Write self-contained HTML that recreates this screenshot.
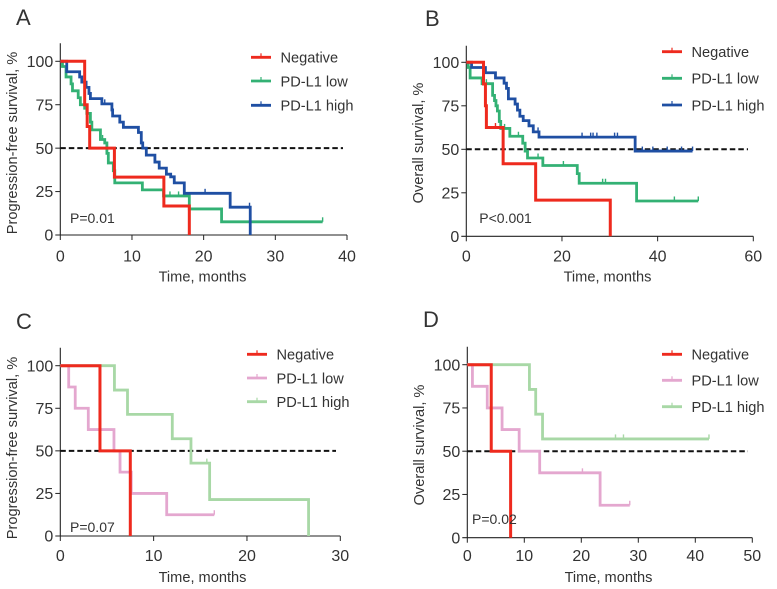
<!DOCTYPE html>
<html>
<head>
<meta charset="utf-8">
<style>
html,body{margin:0;padding:0;background:#fff;width:777px;height:589px;overflow:hidden}
svg{display:block}
text{font-family:"Liberation Sans",sans-serif;fill:#333}
</style>
</head>
<body>
<svg id="figure" width="777" height="589" viewBox="0 0 777 589" xmlns="http://www.w3.org/2000/svg"></svg>
<script>
// Panel A
const aXTicks = [0, 10, 20, 30, 40];
const aNegTimes = [0, 3.4, 3.75, 4.1, 7.55, 14.45, 18.0];
const aNegSurv = [100, 75, 62.5, 50, 33.3, 16.7, 0];
const aNegCensor = [];
const aLowTimes = [0, 0.3, 0.8, 1.5, 1.7, 2.5, 2.8, 3.4, 3.7, 4.2, 4.4, 5.6, 6.2, 6.5, 6.7, 7.4, 7.6, 11.45, 14.4, 18.0, 22.5, 36.6];
const aLowSurv = [100, 97, 91, 87, 83, 79, 75, 73, 70, 65, 60.5, 55, 53, 47, 41.5, 37, 30, 26, 22.5, 15, 7.6, 7.6];
const aLowCensor = [5.9, 15.3, 16.5, 36.6];
const aHighTimes = [0, 0.9, 2.7, 3.0, 3.6, 4.0, 4.2, 5.8, 7.2, 7.3, 8.3, 8.8, 10.9, 11.3, 11.5, 12.0, 13.2, 13.8, 14.8, 15.4, 15.9, 17.3, 23.7, 26.5];
const aHighSurv = [100, 94, 91, 88, 85, 81.5, 78.5, 75.5, 72, 68.5, 65, 62, 59, 53, 50, 46, 42, 38.5, 35, 33.5, 30, 24, 16, 0];
const aHighCensor = [6.2, 20.2, 26.4];

// Panel B
const bXTicks = [0, 20, 40, 60];
const bNegTimes = [0, 3.6, 4.0, 4.2, 7.7, 14.5, 30.1];
const bNegSurv = [100, 87.5, 75, 62.5, 41.7, 20.8, 0];
const bNegCensor = [6.1];
const bLowTimes = [0, 0.4, 0.8, 3.3, 5.5, 5.9, 6.2, 6.5, 6.9, 7.2, 9.1, 11.8, 12.3, 12.8, 16.0, 23.2, 23.6, 35.6, 48.5];
const bLowSurv = [100, 97, 91, 87.7, 81, 78, 75, 72, 66, 62, 57.5, 53.5, 49, 45, 40.7, 36, 30.5, 20.3, 20.3];
const bLowCensor = [4.2, 8.0, 10.9, 15.0, 20.3, 28.5, 29.1, 43.5, 48.5];
const bHighTimes = [0, 1.1, 4.0, 6.1, 7.9, 8.4, 8.8, 10.2, 10.7, 11.2, 11.9, 13.1, 14.0, 15.2, 35.3, 47.3];
const bHighSurv = [100, 97, 94, 91, 88, 85, 79, 76, 72.5, 69, 66.5, 63.5, 60, 57, 49, 49];
const bHighCensor = [15.0, 24.2, 26.0, 26.5, 27.3, 31.0, 31.6, 36.8, 39.0, 42.0, 45.0, 47.3];

// Panel C
const cXTicks = [0, 10, 20, 30];
const cNegTimes = [0, 4.25, 7.5];
const cNegSurv = [100, 50, 0];
const cNegCensor = [];
const cLowTimes = [0, 0.9, 1.6, 3.0, 5.75, 6.4, 7.6, 11.4, 16.5];
const cLowSurv = [100, 87.5, 75, 62.5, 50, 37.5, 25, 12.5, 12.5];
const cLowCensor = [16.5];
const cHighTimes = [0, 5.8, 7.2, 12.0, 14.0, 16.0, 26.6];
const cHighSurv = [100, 85.7, 71.4, 57.1, 42.8, 21.4, 0];
const cHighCensor = [15.7];

// Panel D
const dXTicks = [0, 10, 20, 30, 40, 50];
const dNegTimes = [0, 4.2, 7.6];
const dNegSurv = [100, 50, 0];
const dNegCensor = [];
const dLowTimes = [0, 0.9, 3.5, 6.1, 9.1, 12.7, 23.3, 28.5];
const dLowSurv = [100, 87.5, 75, 62.5, 50, 37.5, 18.75, 18.75];
const dLowCensor = [20.2, 28.5];
const dHighTimes = [0, 10.9, 12.0, 13.2, 42.4];
const dHighSurv = [100, 85.7, 71.4, 57.1, 57.1];
const dHighCensor = [26.0, 27.4, 42.4];

// Shared
const yTicks = [0, 25, 50, 75, 100];
const seriesLabels = ['Negative', 'PD-L1 low', 'PD-L1 high'];

const NS = 'http://www.w3.org/2000/svg';
const root = document.getElementById('figure');

function add(parent, tag, attrs, name) {
  const el = document.createElementNS(NS, tag);
  for (const k in attrs) el.setAttribute(k, attrs[k]);
  
  
  parent.appendChild(el);
  return el;
}
function label(parent, str, attrs, name) {
  const el = add(parent, 'text', attrs, name);
  el.textContent = str;
  return el;
}

function drawPanel(p) {
  const g = add(root, 'g', {}, 'panel-' + p.letter.toLowerCase());
  const xAt = t => p.x0 + t * (p.x1 - p.x0) / p.xTicks[p.xTicks.length - 1];
  const yAt = s => p.y0 - s * (p.y0 - p.y100) / 100;

  label(g, p.letter, {x: p.letterX, y: p.letterY, 'font-size': 22}, 'panel-letter');

  add(g, 'line', {x1: p.x0, x2: p.x0, y1: p.yTop, y2: p.y0, stroke: '#222', 'stroke-width': 1.1}, 'y-axis');
  add(g, 'line', {x1: p.x0 - 5, x2: xAt(p.xTicks[p.xTicks.length - 1]), y1: p.y0, y2: p.y0, stroke: '#222', 'stroke-width': 1.1}, 'x-axis');

  yTicks.forEach(v => {
    if (v > 0) add(g, 'line', {x1: p.x0 - 5, x2: p.x0, y1: yAt(v), y2: yAt(v), stroke: '#222', 'stroke-width': 1}, 'y-tick');
    label(g, String(v), {x: p.x0 - 7, y: yAt(v) + 5.6, 'font-size': 16, 'text-anchor': 'end'}, 'y-tick-label');
  });
  p.xTicks.forEach(v => {
    add(g, 'line', {x1: xAt(v), x2: xAt(v), y1: p.y0, y2: p.y0 + 5, stroke: '#222', 'stroke-width': 1}, 'x-tick');
    label(g, String(v), {x: xAt(v), y: p.tickLabelY, 'font-size': 16, 'text-anchor': 'middle'}, 'x-tick-label');
  });

  label(g, 'Time, months', {x: p.xTitleX, y: p.xTitleY, 'font-size': 14.6, 'text-anchor': 'middle'}, 'x-axis-title');
  label(g, p.yTitle, {
    transform: 'translate(' + p.yTitleX + ' ' + p.yTitleY + ') rotate(-90)',
    'font-size': 14.6, 'text-anchor': 'middle'
  }, 'y-axis-title');

  add(g, 'line', {x1: p.x0, x2: p.dashEnd, y1: yAt(50), y2: yAt(50), stroke: '#111', 'stroke-width': 2, 'stroke-dasharray': '5.5 3'}, 'median-reference-line');

  p.series.forEach(s => {
    let d = 'M' + xAt(s.times[0]) + ' ' + yAt(s.surv[0]);
    for (let i = 1; i < s.times.length; i++) {
      d += 'H' + xAt(s.times[i]) + 'V' + yAt(s.surv[i]);
    }
    add(g, 'path', {d: d, fill: 'none', stroke: s.color, 'stroke-width': s.width, 'stroke-linejoin': 'miter'}, 'survival-curve-' + s.key);
    s.censor.forEach(t => {
      let level = s.surv[0];
      for (let i = 0; i < s.times.length; i++) if (s.times[i] <= t) level = s.surv[i];
      add(g, 'line', {x1: xAt(t), x2: xAt(t), y1: yAt(level) - 4.5, y2: yAt(level), stroke: s.color, 'stroke-width': 1.4}, 'censor-mark-' + s.key);
    });
  });

  label(g, p.pText, {x: p.pX, y: p.pY, 'font-size': 14}, 'p-value');

  p.legend.forEach((row, i) => {
    const lg = add(g, 'g', {}, 'legend-entry');
    add(lg, 'line', {x1: p.legX, x2: p.legX + 20, y1: row, y2: row, stroke: p.legendColors[i], 'stroke-width': 2.8}, 'legend-swatch');
    add(lg, 'line', {x1: p.legX + 10, x2: p.legX + 10, y1: row - 4, y2: row, stroke: p.legendColors[i], 'stroke-width': 1.2}, 'legend-tick');
    label(lg, seriesLabels[i], {x: p.legX + 29.5, y: row + 5.3, 'font-size': 14.6}, 'legend-label');
  });
}

const RED = '#ee2a1e', GREEN = '#33b174', BLUE = '#1f4fa3', PINK = '#e4a7cf', LIGHT = '#a8d8a6';

drawPanel({
  letter: 'A', letterX: 16, letterY: 25, x0: 60.3, x1: 347, y0: 235, y100: 61.3, yTop: 43.3,
  xTicks: aXTicks, tickLabelY: 261.5, xTitleX: 202.5, xTitleY: 281.7, yTitle: 'Progression-free survival, %', yTitleX: 17, yTitleY: 143,
  dashEnd: 343, pText: 'P=0.01', pX: 70, pY: 223, legX: 251, legend: [57.3, 81, 105.3],
  legendColors: [RED, GREEN, BLUE],
  series: [
    {key: 'pd-l1-low', times: aLowTimes, surv: aLowSurv, censor: aLowCensor, color: GREEN, width: 2.8},
    {key: 'pd-l1-high', times: aHighTimes, surv: aHighSurv, censor: aHighCensor, color: BLUE, width: 2.8},
    {key: 'negative', times: aNegTimes, surv: aNegSurv, censor: aNegCensor, color: RED, width: 3}
  ]
});

drawPanel({
  letter: 'B', letterX: 425, letterY: 26, x0: 466.3, x1: 753.3, y0: 236.3, y100: 62.3, yTop: 45.7,
  xTicks: bXTicks, tickLabelY: 261.7, xTitleX: 607.5, xTitleY: 281.7, yTitle: 'Overall survival, %', yTitleX: 423, yTitleY: 143,
  dashEnd: 748, pText: 'P<0.001', pX: 479.3, pY: 223, legX: 662, legend: [51.7, 78.3, 105],
  legendColors: [RED, GREEN, BLUE],
  series: [
    {key: 'pd-l1-low', times: bLowTimes, surv: bLowSurv, censor: bLowCensor, color: GREEN, width: 2.8},
    {key: 'pd-l1-high', times: bHighTimes, surv: bHighSurv, censor: bHighCensor, color: BLUE, width: 2.8},
    {key: 'negative', times: bNegTimes, surv: bNegSurv, censor: bNegCensor, color: RED, width: 3}
  ]
});

drawPanel({
  letter: 'C', letterX: 16, letterY: 329, x0: 60.3, x1: 340.3, y0: 536, y100: 365.7, yTop: 347.7,
  xTicks: cXTicks, tickLabelY: 561, xTitleX: 202.5, xTitleY: 582, yTitle: 'Progression-free survival, %', yTitleX: 17, yTitleY: 448,
  dashEnd: 336, pText: 'P=0.07', pX: 70, pY: 532, legX: 247, legend: [354.3, 378, 401.7],
  legendColors: [RED, PINK, LIGHT],
  series: [
    {key: 'pd-l1-high', times: cHighTimes, surv: cHighSurv, censor: cHighCensor, color: LIGHT, width: 2.8},
    {key: 'pd-l1-low', times: cLowTimes, surv: cLowSurv, censor: cLowCensor, color: PINK, width: 2.8},
    {key: 'negative', times: cNegTimes, surv: cNegSurv, censor: cNegCensor, color: RED, width: 3}
  ]
});

drawPanel({
  letter: 'D', letterX: 423, letterY: 327, x0: 467.3, x1: 752.3, y0: 537.7, y100: 364.7, yTop: 346.7,
  xTicks: dXTicks, tickLabelY: 561, xTitleX: 608.5, xTitleY: 582, yTitle: 'Overall survival, %', yTitleX: 424, yTitleY: 445,
  dashEnd: 748, pText: 'P=0.02', pX: 472, pY: 524, legX: 662, legend: [354.3, 380.3, 406.7],
  legendColors: [RED, PINK, LIGHT],
  series: [
    {key: 'pd-l1-high', times: dHighTimes, surv: dHighSurv, censor: dHighCensor, color: LIGHT, width: 2.8},
    {key: 'pd-l1-low', times: dLowTimes, surv: dLowSurv, censor: dLowCensor, color: PINK, width: 2.8},
    {key: 'negative', times: dNegTimes, surv: dNegSurv, censor: dNegCensor, color: RED, width: 3}
  ]
});
</script>
</body>
</html>
